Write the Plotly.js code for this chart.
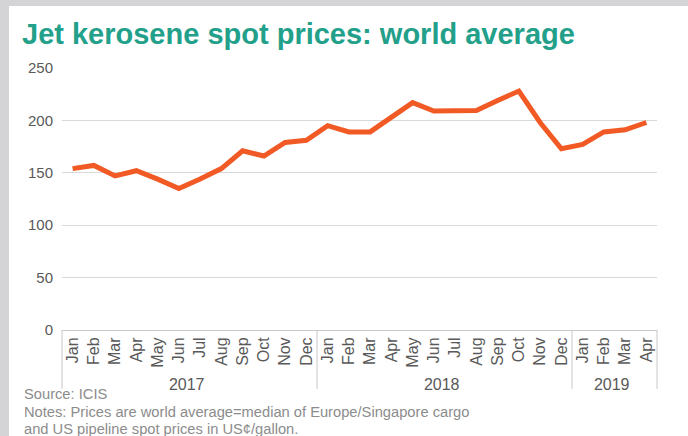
<!DOCTYPE html>
<html><head><meta charset="utf-8">
<script src="https://cdn.plot.ly/plotly-3.0.1.min.js"></script>
<style>html,body{margin:0;padding:0;background:#fff;}#chart{width:688px;height:436px;}</style>
</head><body><div id="chart"></div>
<script>
const years = ["2017","2017","2017","2017","2017","2017","2017","2017","2017","2017","2017","2017",
  "2018","2018","2018","2018","2018","2018","2018","2018","2018","2018","2018","2018",
  "2019","2019","2019","2019"];
const months = ["Jan","Feb","Mar","Apr","May","Jun","Jul","Aug","Sep","Oct","Nov","Dec",
  "Jan","Feb","Mar","Apr","May","Jun","Jul","Aug","Sep","Oct","Nov","Dec",
  "Jan","Feb","Mar","Apr"];
const prices = [154,157,147,152,144,135,144,154,171,166,179,181,
  195,189,189,203,217,209,209,209.5,219,228,198,173,
  177,189,191,198];
const yTicks = [0,50,100,150,200,250];
const noteLines = ["Source: ICIS",
  "Notes: Prices are world average=median of Europe/Singapore cargo",
  "and US pipeline spot prices in US¢/gallon."];

const trace = {
  x: [years, months], y: prices, type: "scatter", mode: "lines",
  line: {color: "#f15a24", width: 5}, hoverinfo: "skip"
};
// group boundaries (paper fractions) for the year dividers
const bounds = [0];
for (let i = 1; i < years.length; i++) if (years[i] !== years[i-1]) bounds.push(i / years.length);
bounds.push(1);
const divShapes = bounds.map(function(b){
  return {type: "line", xref: "paper", yref: "paper", x0: b, x1: b, y0: 0, y1: -0.225,
    line: {color: "#c8c8c8", width: 1}};
});
const noteY = [-0.244, -0.313, -0.378];
const layout = {
  width: 688, height: 436,
  margin: {l: 62, r: 31, t: 68, b: 106},
  paper_bgcolor: "#fff", plot_bgcolor: "#fff",
  showlegend: false,
  font: {family: "Liberation Sans, Arial, sans-serif", color: "#595959"},
  title: {text: "<b>Jet kerosene spot prices: world average</b>", x: 0.032, xanchor: "left", y: 0.945, yanchor: "top",
    font: {family: "Liberation Sans, Arial, sans-serif", size: 29, color: "#22a08a"}},
  xaxis: {type: "multicategory", range: [-0.5, 27.5], showgrid: false, showline: true, linecolor: "#c8c8c8", linewidth: 1,
    ticks: "", tickangle: -90, tickfont: {size: 16, color: "#595959"},
    showdividers: false},
  yaxis: {range: [0, 250], tickvals: yTicks, showgrid: true, gridcolor: "#d9d9d9", gridwidth: 1,
    zeroline: false, showline: false, ticks: "", tickfont: {size: 15, color: "#595959"}, ticklabelstandoff: 8},
  shapes: divShapes,
  annotations: noteLines.map(function(t, i){
    return {xref: "paper", yref: "paper", x: -0.0672, y: noteY[i], xanchor: "left", yanchor: "middle",
      showarrow: false, align: "left", text: t, font: {size: 14.7, color: "#8c8c8c"}};
  })
};
Plotly.newPlot("chart", [trace], layout, {displayModeBar: false, staticPlot: true}).then(function(gd){
  // pull the year (outer) labels a little closer to the month labels
  gd.querySelectorAll(".xaxislayer-above text").forEach(function(el){
    if (/^\d{4}$/.test(el.textContent.trim())) {
      el.setAttribute("transform", "translate(0,-9) " + (el.getAttribute("transform") || ""));
    }
  });
});
</script>
<div style="position:absolute;left:0;top:0;width:9px;height:436px;background:#d4d4d6;"></div>
<div style="position:absolute;left:0;top:0;width:688px;height:6px;background:#d4d4d6;"></div>
</body></html>
